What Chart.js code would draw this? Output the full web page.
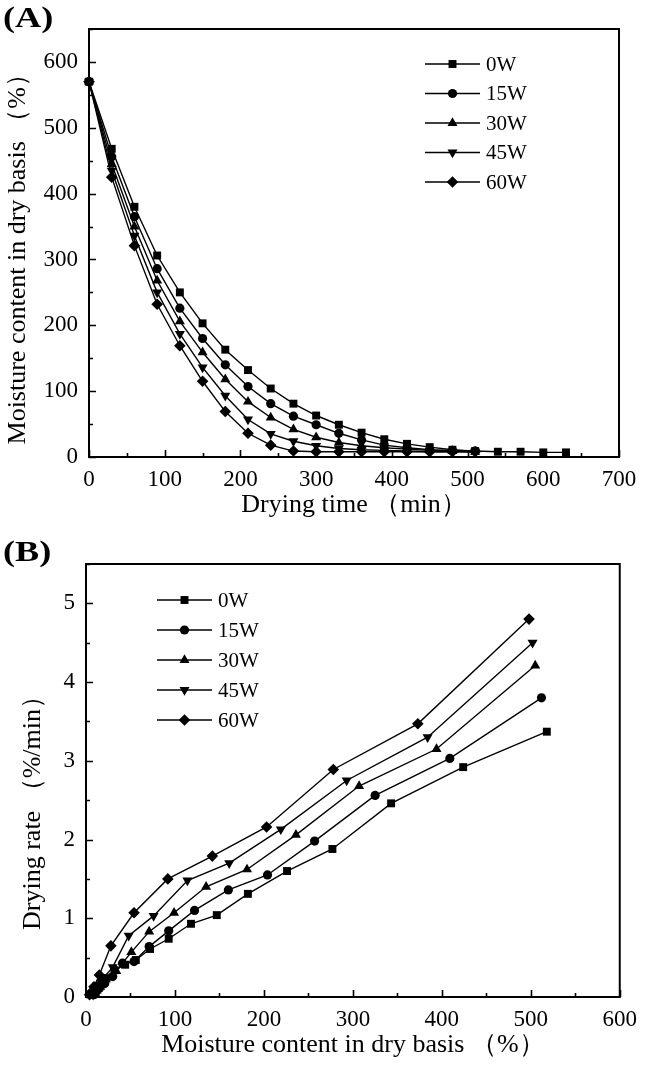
<!DOCTYPE html>
<html>
<head>
<meta charset="utf-8">
<script src="https://cdn.jsdelivr.net/npm/chart.js@4.4.0/dist/chart.umd.min.js"></script>
<style>
  body { margin: 0; background: #fff; width: 646px; height: 1068px; position: relative; overflow: hidden; }
  .panel { position: absolute; left: 0; width: 646px; }
  .tag { position: absolute; left: 3px; font: bold 29px "Liberation Serif", serif; color: #000; transform: scaleX(1.25); transform-origin: left top; }
</style>
</head>
<body>
<div class="panel" style="top:0;height:530px;"><canvas id="chartA"></canvas></div>
<div class="panel" style="top:530px;height:538px;"><canvas id="chartB"></canvas></div>
<div class="tag" style="top:1px;">(A)</div>
<div class="tag" style="top:535px;">(B)</div>

<script>
// ---- (A) moisture content vs drying time ----
const dryingTime = [0, 30, 60, 90, 120, 150, 180, 210, 240, 270, 300, 330, 360, 390, 420, 450, 480, 510, 540, 570, 600, 630];
const moist0W  = [570, 468, 380, 306, 250, 203, 163, 132, 104, 81, 63, 49, 37, 27, 20, 15, 11, 9, 8, 8, 7, 7];
const moist15W = [570, 456, 365, 286, 226, 180, 140, 107, 81, 62, 49, 36, 26, 18, 14, 11, 10, 9];
const moist30W = [570, 445, 350, 268, 206, 159, 118, 84, 60, 42, 30, 22, 17, 14, 12, 10, 9, 8];
const moist45W = [570, 435, 336, 250, 187, 136, 93, 57, 35, 24, 17, 13, 11, 10, 9, 8, 8, 8];
const moist60W = [570, 425, 321, 232, 169, 115, 69, 36, 18, 9, 8, 8, 8, 8, 8, 8, 8, 8];

// ---- (B) drying rate vs moisture content ----
const rateM0W  = [518, 424, 343, 277, 226, 182, 147, 118, 93, 72, 56, 44, 32, 23, 17, 12, 9, 7];
const rate0W   = [3.37, 2.92, 2.46, 1.88, 1.60, 1.31, 1.04, 0.93, 0.74, 0.61, 0.47, 0.41, 0.34, 0.24, 0.19, 0.14, 0.09, 0.04];
const rateM15W = [512, 409, 325, 257, 204, 160, 122, 93, 71, 54, 41, 30, 21, 15, 11, 9];
const rate15W  = [3.80, 3.03, 2.56, 1.98, 1.55, 1.36, 1.10, 0.84, 0.64, 0.45, 0.43, 0.26, 0.17, 0.11, 0.06, 0.03];
const rateM30W = [505, 394, 307, 236, 181, 135, 99, 71, 51, 34, 22, 16, 12, 10, 9];
const rate30W  = [4.21, 3.15, 2.68, 2.06, 1.62, 1.40, 1.07, 0.83, 0.57, 0.33, 0.22, 0.13, 0.08, 0.05, 0.03];
const rateM45W = [502, 384, 293, 219, 161, 114, 76, 48, 30, 18, 12, 9, 8];
const rate45W  = [4.50, 3.30, 2.75, 2.13, 1.70, 1.48, 1.03, 0.78, 0.38, 0.22, 0.12, 0.06, 0.03];
const rateM60W = [498, 373, 278, 203, 142, 92, 54, 28, 15, 9, 6, 4];
const rate60W  = [4.80, 3.47, 2.89, 2.16, 1.79, 1.50, 1.07, 0.65, 0.28, 0.13, 0.06, 0.03];

const seriesLabels = ['0W', '15W', '30W', '45W', '60W'];
const markerStyles = ['rect', 'circle', 'triangle', 'triangle', 'rectRot'];
const markerTurn   = [0, 0, 0, 180, 0];
const markerSize   = [5.6, 4.6, 5.8, 5.8, 5.8];

const serif = '"Liberation Serif", "Times New Roman", serif';

function pairs(xs, ys) {
  return ys.map((v, i) => ({ x: xs[i], y: v }));
}

function makeSets(list) {
  return list.map(([xs, ys], i) => ({
    label: seriesLabels[i],
    data: pairs(xs, ys),
    borderColor: '#000',
    backgroundColor: '#000',
    borderWidth: 1.4,
    pointStyle: markerStyles[i],
    pointRotation: markerTurn[i],
    pointRadius: markerSize[i],
    pointHoverRadius: markerSize[i],
    pointBorderWidth: 0,
    tension: 0,
    clip: false,
  }));
}

// frame plus inward major/minor ticks on the bottom and left axes
const frameTicks = {
  id: 'frameTicks',
  beforeDatasetsDraw(chart, args, opts) {
    const { ctx, chartArea: a, scales: { x, y } } = chart;
    const isMajor = (v, step) => Math.abs(v / step - Math.round(v / step)) < 1e-6;
    ctx.save();
    ctx.strokeStyle = '#000';
    ctx.lineWidth = 1.6;
    ctx.beginPath();
    for (let v = x.min; v <= x.max + 1e-9; v += opts.xMinor) {
      const px = Math.round(x.getPixelForValue(v)) + 0.5;
      ctx.moveTo(px, a.bottom);
      ctx.lineTo(px, a.bottom - (isMajor(v, opts.xMajor) ? 7 : 4));
    }
    for (let v = y.min; v <= y.max + 1e-9; v += opts.yMinor) {
      const py = Math.round(y.getPixelForValue(v)) + 0.5;
      ctx.moveTo(a.left, py);
      ctx.lineTo(a.left + (isMajor(v, opts.yMajor) ? 7 : 4), py);
    }
    ctx.stroke();
    ctx.lineWidth = 2;
    ctx.strokeRect(a.left, a.top, a.right - a.left, a.bottom - a.top);
    ctx.restore();
  }
};

// legend drawn as line + marker + label, like the original figure
const lineLegend = {
  id: 'lineLegend',
  afterDraw(chart, args, opts) {
    const ctx = chart.ctx;
    ctx.save();
    chart.data.datasets.forEach((ds, i) => {
      const y = opts.y + i * opts.gap;
      ctx.strokeStyle = '#000';
      ctx.lineWidth = 1.4;
      ctx.beginPath();
      ctx.moveTo(opts.x, y);
      ctx.lineTo(opts.x + opts.len, y);
      ctx.stroke();
      ctx.fillStyle = '#000';
      Chart.helpers.drawPoint(ctx, {
        pointStyle: ds.pointStyle, radius: ds.pointRadius, rotation: ds.pointRotation, borderWidth: 0
      }, opts.x + opts.len / 2, y);
      ctx.font = '21px ' + serif;
      ctx.textBaseline = 'middle';
      ctx.textAlign = 'left';
      ctx.fillText(ds.label, opts.x + opts.len + 6, y + 1);
    });
    ctx.restore();
  }
};

function axis(min, max, step, title, titlePad, boxSize, isX) {
  return {
    type: 'linear',
    min: min,
    max: max,
    afterBuildTicks: (s) => { s.ticks = s.ticks.filter(t => Math.abs(t.value / step - Math.round(t.value / step)) < 1e-6); },
    afterFit: (s) => { if (isX) s.height = boxSize; else s.width = boxSize; },
    ticks: {
      stepSize: step,
      color: '#000',
      padding: isX ? 9 : 11,
      maxRotation: 0,
      autoSkip: false,
      font: { family: serif, size: 23 },
    },
    grid: { display: false, drawTicks: false },
    border: { display: false },
    title: {
      display: true,
      text: title,
      color: '#000',
      font: { family: serif, size: 26 },
      padding: titlePad,
    },
  };
}

Chart.defaults.animation = false;

new Chart(document.getElementById('chartA'), {
  type: 'line',
  data: {
    datasets: makeSets([
      [dryingTime, moist0W], [dryingTime, moist15W], [dryingTime, moist30W], [dryingTime, moist45W], [dryingTime, moist60W]
    ]),
  },
  options: {
    responsive: true,
    maintainAspectRatio: false,
    layout: { padding: { top: 29, right: 27, left: 0, bottom: 0 } },
    scales: {
      x: axis(0, 700, 100, 'Drying time （min）', { top: 0, bottom: 9 }, 73, true),
      y: axis(0, 650, 100, 'Moisture content in dry basis （%）   ', { top: 3, bottom: 0 }, 89, false),
    },
    plugins: {
      legend: { display: false },
      tooltip: { enabled: false },
      frameTicks: { xMajor: 100, xMinor: 50, yMajor: 100, yMinor: 50 },
      lineLegend: { x: 425, y: 64, gap: 29.5, len: 55 },
    },
  },
  plugins: [frameTicks, lineLegend],
});

new Chart(document.getElementById('chartB'), {
  type: 'line',
  data: {
    datasets: makeSets([
      [rateM0W, rate0W], [rateM15W, rate15W], [rateM30W, rate30W], [rateM45W, rate45W], [rateM60W, rate60W]
    ]),
  },
  options: {
    responsive: true,
    maintainAspectRatio: false,
    layout: { padding: { top: 34, right: 23, left: 0, bottom: 0 } },
    scales: {
      x: axis(0, 600, 100, 'Moisture content in dry basis （%）', { top: 0, bottom: 7 }, 71, true),
      y: axis(0, 5.5, 1, 'Drying rate （%/min）        ', { top: 18, bottom: 0 }, 86, false),
    },
    plugins: {
      legend: { display: false },
      tooltip: { enabled: false },
      frameTicks: { xMajor: 100, xMinor: 50, yMajor: 1, yMinor: 0.5 },
      lineLegend: { x: 157, y: 70, gap: 30, len: 55 },
    },
  },
  plugins: [frameTicks, lineLegend],
});
</script>
</body>
</html>
